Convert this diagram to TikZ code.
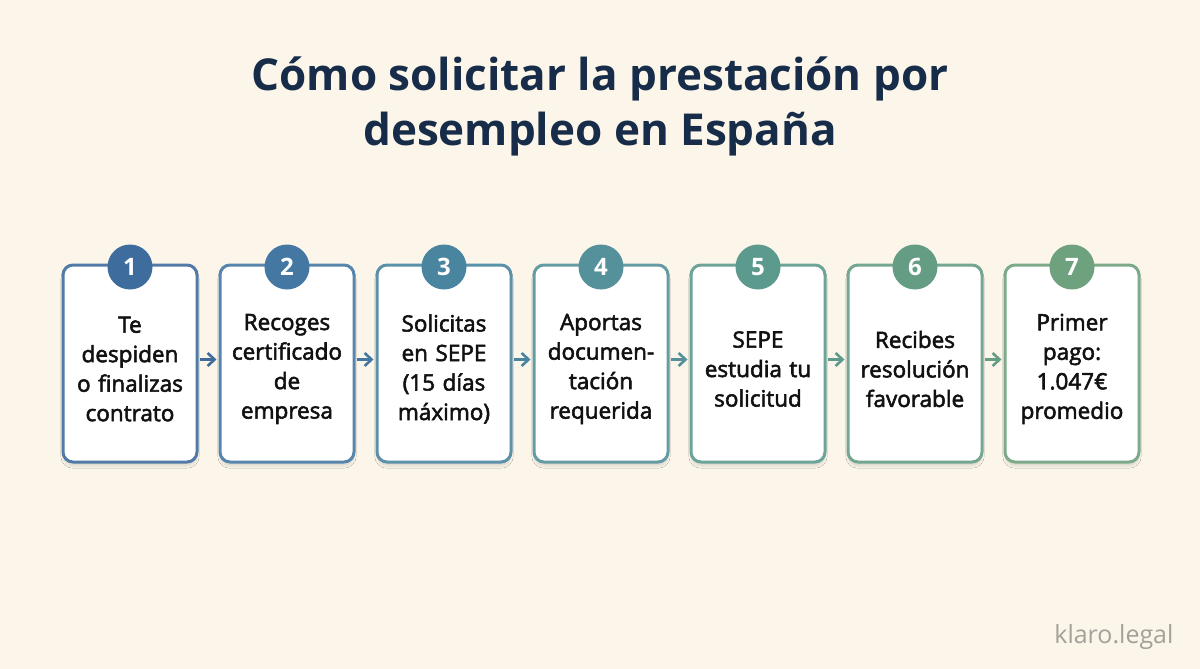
\documentclass[tikz,border=0pt]{standalone}
\usepackage{fontspec}
\setmainfont{Open Sans}
\newfontfamily\boxfont[FakeBold=2.4]{Open Sans}
\usetikzlibrary{arrows.meta,shadows.blur}
\definecolor{bg}{HTML}{FBF5EA}
\definecolor{titlec}{HTML}{172C48}
\definecolor{txt}{HTML}{111111}
\definecolor{wm}{HTML}{A3A199}
\definecolor{c1}{HTML}{3E6C9C}
\definecolor{c2}{HTML}{4478A2}
\definecolor{c3}{HTML}{4A85A0}
\definecolor{c4}{HTML}{54919A}
\definecolor{c5}{HTML}{5C9A8E}
\definecolor{c6}{HTML}{659D84}
\definecolor{c7}{HTML}{6EA17D}
\tikzset{
  stepbox/.style={draw=#1!90!white, line width=3pt, rounded corners=10pt, fill=white,
    minimum width=134pt, minimum height=197pt, inner sep=0pt,
    blur shadow={shadow xshift=0pt, shadow yshift=-4pt, shadow blur steps=8, shadow opacity=12}},
  numcirc/.style={circle, fill=#1, minimum size=45pt, inner sep=0pt, text=white,
    font=\fontsize{24}{26}\selectfont\bfseries},
  steptext/.style={text=txt, align=center, font=\boxfont\fontsize{22.5}{29.5}\selectfont, text width=132pt},
  flow/.style={draw=#1, line width=2.8pt, -{Straight Barb[length=7pt,width=13pt,line width=2.6pt]}}
}
\begin{document}
\begin{tikzpicture}[x=1pt,y=-1pt]
\fill[bg] (0,0) rectangle (1200,669);
\useasboundingbox (0,0) rectangle (1200,669);
\node[text=titlec, align=center, font=\fontsize{44}{55}\selectfont\bfseries] (title) at (600,106)
  {Cómo solicitar la prestación por\\desempleo en España};
\foreach \i/\x/\t in {1/130/{Te\\despiden\\o finalizas\\contrato},
                      2/287/{Recoges\\certificado\\de\\empresa},
                      3/444/{Solicitas\\en SEPE\\(15 días\\máximo)},
                      4/601/{Aportas\\documen-\\tación\\requerida},
                      5/758/{SEPE\\estudia tu\\solicitud},
                      6/915/{Recibes\\resolución\\favorable},
                      7/1072/{Primer\\pago:\\1.047€\\promedio}} {
  \node[stepbox=c\i] (b\i) at (\x,363.5) {};
  \node[steptext] (t\i) at (\x,369) {\t};
  \node[numcirc=c\i] (n\i) at (\x,267) {\i};
}
\foreach \a/\b/\c in {1/2/c1,2/3/c2,3/4/c3,4/5/c4,5/6/c5,6/7/c6} {
  \draw[flow=\c] ([xshift=1.5pt,yshift=4pt]b\a.east) -- ([xshift=-2pt,yshift=4pt]b\b.west);
}
\node[text=wm, font=\fontsize{25}{28}\selectfont, anchor=east] (wmark) at (1177,637) {klaro.legal};
\end{tikzpicture}
\end{document}
